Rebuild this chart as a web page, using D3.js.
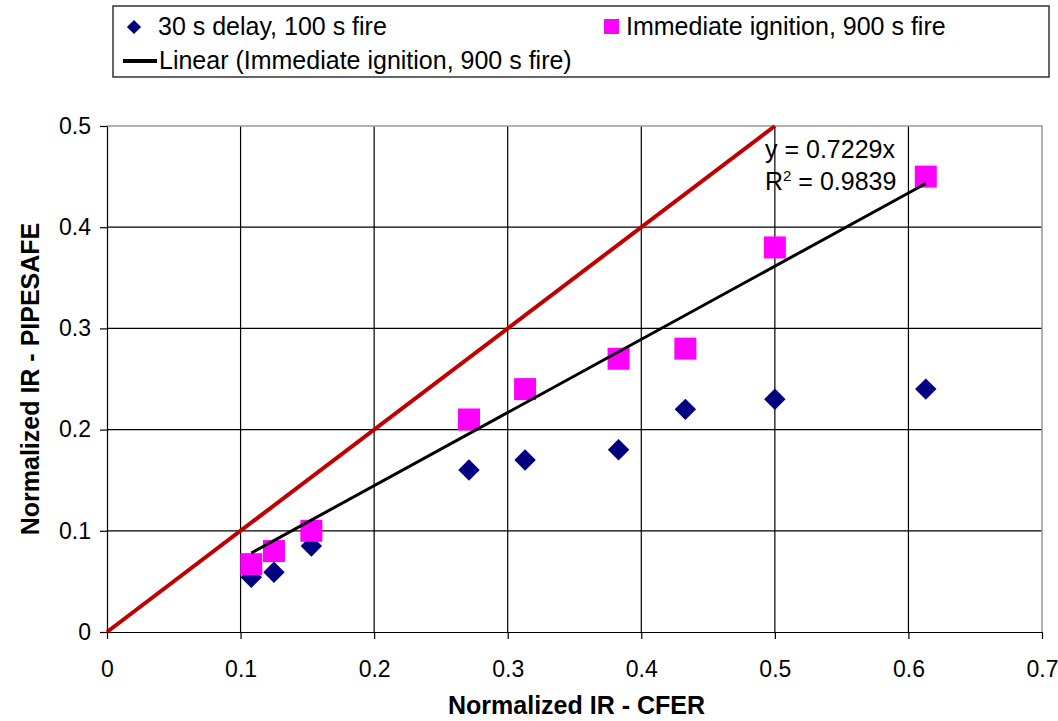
<!DOCTYPE html>
<html>
<head>
<meta charset="utf-8">
<script src="https://cdn.jsdelivr.net/npm/d3@7"></script>
<style>
  body { margin: 0; background: #fff; }
  text { font-family: "Liberation Sans", Arial, sans-serif; }
</style>
</head>
<body>
<div id="chart"></div>
<script>
// values
var cferX = [0.108, 0.125, 0.153, 0.271, 0.313, 0.383, 0.433, 0.5, 0.613];
var delay30 = [0.054, 0.059, 0.085, 0.16, 0.17, 0.18, 0.22, 0.23, 0.24];
var immediate = [0.067, 0.08, 0.1, 0.21, 0.24, 0.27, 0.28, 0.38, 0.45];
var slope = 0.7229, r2 = 0.9839;
var xTicks = [0, 0.1, 0.2, 0.3, 0.4, 0.5, 0.6, 0.7];
var yTicks = [0, 0.1, 0.2, 0.3, 0.4, 0.5];

var w = 1058, h = 721;
var margin = {top: 126, right: 16, bottom: 89, left: 107};
var fs = 25;

var svg = d3.select("#chart").append("svg")
    .attr("width", w)
    .attr("height", h);

var x = d3.scaleLinear().domain([0, 0.7]).range([margin.left, w - margin.right]);
var y = d3.scaleLinear().domain([0, 0.5]).range([h - margin.bottom, margin.top]);

// gridlines
svg.append("g").selectAll("line.v")
    .data(xTicks.slice(1, -1))
    .enter().append("line")
    .attr("x1", function (d) { return x(d); })
    .attr("x2", function (d) { return x(d); })
    .attr("y1", y(0)).attr("y2", y(0.5))
    .attr("stroke", "#000").attr("stroke-width", 1.2);

svg.append("g").selectAll("line.h")
    .data(yTicks.slice(1, -1))
    .enter().append("line")
    .attr("x1", x(0)).attr("x2", x(0.7))
    .attr("y1", function (d) { return y(d); })
    .attr("y2", function (d) { return y(d); })
    .attr("stroke", "#000").attr("stroke-width", 1.2);

// plot border top/right (grey)
svg.append("path")
    .attr("d", "M" + x(0) + "," + y(0.5) + "H" + x(0.7) + "V" + y(0))
    .attr("fill", "none").attr("stroke", "#999").attr("stroke-width", 1.5);

// axes
var fmt = function (d) { return d === 0 ? "0" : d3.format(".1f")(d); };

var xAxis = svg.append("g")
    .attr("transform", "translate(0," + y(0) + ")")
    .call(d3.axisBottom(x).tickValues(xTicks).tickSize(7).tickSizeOuter(0).tickFormat(fmt));
xAxis.select(".domain").attr("stroke", "#000").attr("stroke-width", 1.2);
xAxis.selectAll(".tick line").attr("stroke", "#000").attr("stroke-width", 1.2);
xAxis.selectAll(".tick text")
    .attr("font-size", 23).attr("fill", "#000")
    .attr("y", 45).attr("dy", 0);

var yAxis = svg.append("g")
    .attr("transform", "translate(" + x(0) + ",0)")
    .call(d3.axisLeft(y).tickValues(yTicks).tickSize(7).tickSizeOuter(0).tickFormat(fmt));
yAxis.select(".domain").attr("stroke", "#000").attr("stroke-width", 1.2);
yAxis.selectAll(".tick line").attr("stroke", "#000").attr("stroke-width", 1.2);
yAxis.selectAll(".tick text")
    .attr("font-size", 23).attr("fill", "#000")
    .attr("x", -16);

// axis titles
svg.append("text")
    .attr("x", (x(0) + x(0.7)) / 2 + 2)
    .attr("y", 714)
    .attr("text-anchor", "middle")
    .attr("font-size", fs).attr("font-weight", "bold")
    .text("Normalized IR - CFER");

svg.append("text")
    .attr("transform", "translate(39," + ((y(0) + y(0.5)) / 2) + ") rotate(-90)")
    .attr("text-anchor", "middle")
    .attr("font-size", fs).attr("font-weight", "bold")
    .text("Normalized IR - PIPESAFE");

// 1:1 line
svg.append("line")
    .attr("x1", x(0)).attr("y1", y(0))
    .attr("x2", x(0.5)).attr("y2", y(0.5))
    .attr("stroke", "#c00000").attr("stroke-width", 4);

var points = cferX.map(function (d, i) {
    return {x: d, a: delay30[i], b: immediate[i]};
});

var diamond = d3.symbol().type(d3.symbolSquare).size(230);

svg.append("g").selectAll("path")
    .data(points)
    .enter().append("path")
    .attr("d", diamond)
    .attr("transform", function (d) {
        return "translate(" + x(d.x) + "," + y(d.a) + ") rotate(45)";
    })
    .attr("fill", "#000080");

svg.append("g").selectAll("rect")
    .data(points)
    .enter().append("rect")
    .attr("x", function (d) { return x(d.x) - 11; })
    .attr("y", function (d) { return y(d.b) - 11; })
    .attr("width", 22).attr("height", 22)
    .attr("fill", "#ff00ff");

// linear trend
var xMin = d3.min(cferX), xMax = d3.max(cferX);
svg.append("line")
    .attr("x1", x(xMin)).attr("y1", y(slope * xMin))
    .attr("x2", x(xMax)).attr("y2", y(slope * xMax))
    .attr("stroke", "#000").attr("stroke-width", 3);

svg.append("text")
    .attr("x", 765).attr("y", 158)
    .attr("font-size", fs)
    .text("y = " + slope + "x");

var rt = svg.append("text")
    .attr("x", 765).attr("y", 190)
    .attr("font-size", fs);
rt.append("tspan").text("R");
rt.append("tspan").attr("font-size", 15).attr("dy", -9).text("2");
rt.append("tspan").attr("dy", 9).text(" = " + r2);

// legend
var legend = svg.append("g");
legend.append("rect")
    .attr("x", 113).attr("y", 6)
    .attr("width", 936).attr("height", 71)
    .attr("fill", "#fff").attr("stroke", "#333").attr("stroke-width", 1.5);

legend.append("path")
    .attr("d", d3.symbol().type(d3.symbolSquare).size(100))
    .attr("transform", "translate(134,27) rotate(45)")
    .attr("fill", "#000080");
legend.append("text")
    .attr("x", 158).attr("y", 35)
    .attr("font-size", fs)
    .text("30 s delay, 100 s fire");

legend.append("rect")
    .attr("x", 604).attr("y", 19)
    .attr("width", 15).attr("height", 15)
    .attr("fill", "#ff00ff");
legend.append("text")
    .attr("x", 626).attr("y", 35)
    .attr("font-size", fs)
    .text("Immediate ignition, 900 s fire");

legend.append("line")
    .attr("x1", 123).attr("x2", 157)
    .attr("y1", 61).attr("y2", 61)
    .attr("stroke", "#000").attr("stroke-width", 4);
legend.append("text")
    .attr("x", 159).attr("y", 69)
    .attr("font-size", fs)
    .text("Linear (Immediate ignition, 900 s fire)");
</script>
</body>
</html>
